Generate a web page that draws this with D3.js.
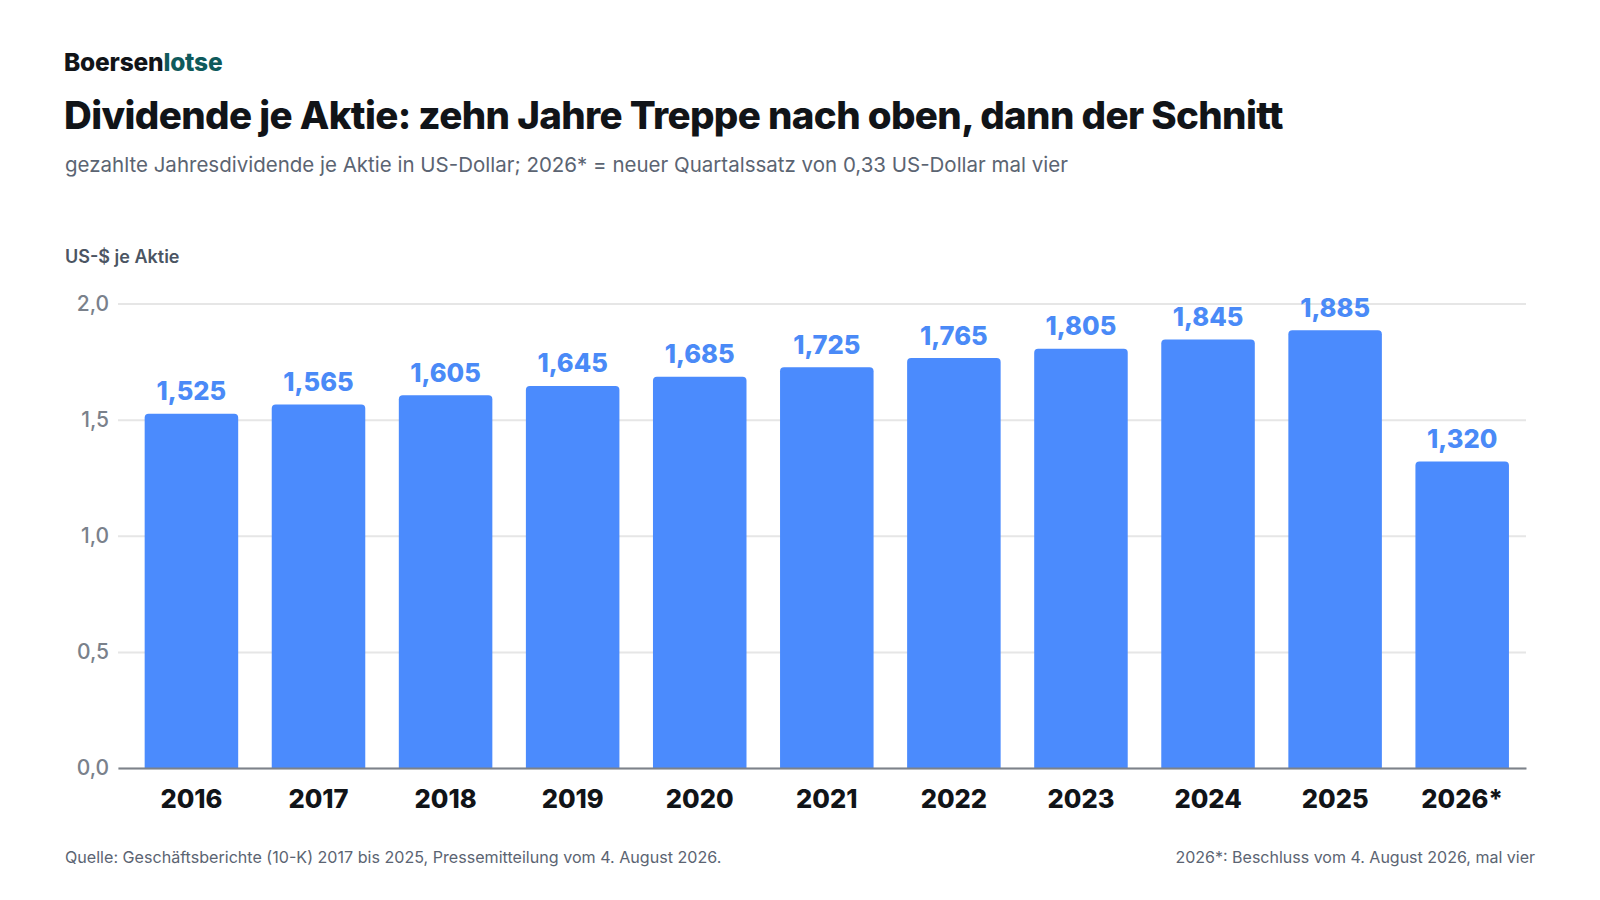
<!DOCTYPE html>
<html lang="de">
  <head>
    <meta charset="utf-8" />
    <title>Dividende je Aktie</title>
    <script src="https://cdnjs.cloudflare.com/ajax/libs/d3/7.8.5/d3.min.js"></script>
    <style>
      body { margin: 0; background: #fff; }
      svg { display: block; font-family: Inter, "Noto Sans", sans-serif; }
    </style>
  </head>
  <body>
    <script>
      // Data
      const years = ['2016', '2017', '2018', '2019', '2020', '2021', '2022', '2023', '2024', '2025', '2026*'];
      const dividends = [1.525, 1.565, 1.605, 1.645, 1.685, 1.725, 1.765, 1.805, 1.845, 1.885, 1.32];
      const yTicks = [0, 0.5, 1.0, 1.5, 2.0];

      const width = 1600;
      const height = 900;
      const marginLeft = 118;
      const marginRight = 74;
      const marginTop = 303.5;
      const marginBottom = 132;

      const fmt = d3.format(',.3f');
      const de = v => fmt(v).replace('.', ',');
      const deTick = v => v.toFixed(1).replace('.', ',');

      const svg = d3.select('body')
        .append('svg')
        .attr('width', width)
        .attr('height', height)
        .attr('viewBox', [0, 0, width, height]);

      // Header
      const brand = svg.append('text')
        .attr('x', 64)
        .attr('y', 70.5)
        .attr('font-size', 24.5)
        .attr('font-weight', 800)
        .attr('letter-spacing', -0.2);
      brand.append('tspan').attr('fill', '#111418').text('Boersen');
      brand.append('tspan').attr('fill', '#0f5a5c').text('lotse');

      svg.append('text')
        .attr('x', 64)
        .attr('y', 128.5)
        .attr('font-size', 38.5)
        .attr('font-weight', 800)
        .attr('letter-spacing', -0.64)
        .attr('fill', '#111418')
        .text('Dividende je Aktie: zehn Jahre Treppe nach oben, dann der Schnitt');

      svg.append('text')
        .attr('x', 65)
        .attr('y', 171.5)
        .attr('font-size', 20.5)
        .attr('fill', '#5b6472')
        .text('gezahlte Jahresdividende je Aktie in US-Dollar; 2026* = neuer Quartalssatz von 0,33 US-Dollar mal vier');

      svg.append('text')
        .attr('x', 65)
        .attr('y', 263)
        .attr('font-size', 18)
        .attr('font-weight', 600)
        .attr('fill', '#4b5563')
        .text('US-$ je Aktie');

      // Scales
      const x = d3.scaleBand()
        .domain(years)
        .range([marginLeft, width - marginRight])
        .paddingInner(0.264)
        .paddingOuter(0.172)
        .align(0.61);

      const y = d3.scaleLinear()
        .domain([0, 2])
        .range([height - marginBottom, marginTop]);

      // Grid + y labels
      svg.append('g')
        .attr('transform', `translate(${marginLeft},0)`)
        .call(d3.axisLeft(y).tickValues(yTicks).tickFormat(deTick).tickSize(0).tickPadding(9))
        .call(g => g.select('.domain').remove())
        .call(g => g.selectAll('.tick text')
          .attr('font-family', 'Inter, sans-serif')
          .attr('font-size', 21)
          .attr('font-weight', 500)
          .attr('fill', '#7a818b'))
        .call(g => g.selectAll('.tick line').clone()
          .attr('x2', width - marginLeft - marginRight)
          .attr('stroke', '#e6e6e6')
          .attr('stroke-width', 2));

      // Bars with rounded top corners
      const r = 4;
      const bw = x.bandwidth();
      svg.append('g')
        .selectAll('path')
        .data(years)
        .join('path')
        .attr('fill', '#4b8bfd')
        .attr('d', (d, i) => {
          const x0 = x(d), y0 = y(dividends[i]), yb = y(0);
          return `M${x0},${yb}V${y0 + r}Q${x0},${y0} ${x0 + r},${y0}H${x0 + bw - r}Q${x0 + bw},${y0} ${x0 + bw},${y0 + r}V${yb}Z`;
        });

      // Value labels
      svg.append('g')
        .selectAll('text')
        .data(years)
        .join('text')
        .attr('x', d => x(d) + bw / 2)
        .attr('y', (d, i) => y(dividends[i]) - 13.5)
        .attr('text-anchor', 'middle')
        .attr('font-size', 25.5)
        .attr('font-weight', 800)
        .attr('fill', '#4a8af7')
        .text((d, i) => de(dividends[i]));

      // X axis
      svg.append('g')
        .attr('transform', `translate(0,${y(0)})`)
        .call(d3.axisBottom(x).tickSize(0).tickPadding(22))
        .call(g => g.select('.domain').attr('stroke', '#7d828a').attr('stroke-width', 2))
        .call(g => g.selectAll('.tick text')
          .attr('font-family', 'Inter, sans-serif')
          .attr('font-size', 25.5)
          .attr('font-weight', 800)
          .attr('fill', '#111418'));

      // Footer
      svg.append('text')
        .attr('x', 65)
        .attr('y', 862.5)
        .attr('font-size', 16.1)
        .attr('fill', '#5b6472')
        .text('Quelle: Geschäftsberichte (10-K) 2017 bis 2025, Pressemitteilung vom 4. August 2026.');

      svg.append('text')
        .attr('x', 1535)
        .attr('y', 862.5)
        .attr('text-anchor', 'end')
        .attr('font-size', 16)
        .attr('fill', '#5b6472')
        .text('2026*: Beschluss vom 4. August 2026, mal vier');
    </script>
  </body>
</html>
